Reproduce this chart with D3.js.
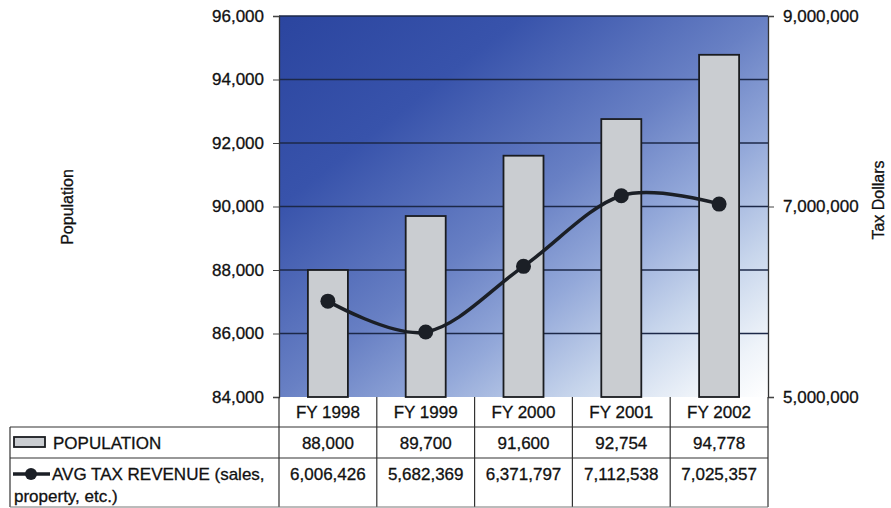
<!DOCTYPE html>
<html><head><meta charset="utf-8">
<script src="https://cdn.jsdelivr.net/npm/d3@7"></script>
<style>
body{margin:0;background:#fff;}
text{font-family:"Liberation Sans",Arial,sans-serif;fill:#111;stroke:#111;stroke-width:0.3px;}
</style></head><body>
<svg id="c" width="891" height="508"></svg>
<script>
const categories = ["FY 1998","FY 1999","FY 2000","FY 2001","FY 2002"];
const population = [88000, 89700, 91600, 92754, 94778];
const taxRevenue = [6006426, 5682369, 6371797, 7112538, 7025357];
const popLabels = ["88,000","89,700","91,600","92,754","94,778"];
const taxLabels = ["6,006,426","5,682,369","6,371,797","7,112,538","7,025,357"];
const leftTicks = [84000,86000,88000,90000,92000,94000,96000];
const rightTicks = [5000000,7000000,9000000];

const svg = d3.select("#c");
const L = 279, R = 768, T = 16, B = 397;
const FS = 17;

const x = d3.scaleBand().domain(categories).range([L, R]).paddingInner(0).paddingOuter(0);
const yL = d3.scaleLinear().domain([84000, 96000]).range([B, T]);
const yR = d3.scaleLinear().domain([5000000, 9000000]).range([B, T]);

// background gradient
const defs = svg.append("defs");
const g = defs.append("linearGradient").attr("id","bg").attr("x1","0").attr("y1","0").attr("x2","1").attr("y2","1");
[[0,"#2b459f"],[0.25,"#3853ab"],[0.5,"#6880c4"],[0.65,"#93a8d9"],[0.8,"#c8d6ec"],[0.92,"#eef3f9"],[1,"#ffffff"]].forEach(s=>
  g.append("stop").attr("offset",s[0]).attr("stop-color",s[1]));
svg.append("rect").attr("x",L).attr("y",T).attr("width",R-L).attr("height",B-T).attr("fill","url(#bg)");

// gridlines
svg.append("g").selectAll("line").data(leftTicks.slice(1)).join("line")
  .attr("x1",L).attr("x2",R).attr("y1",d=>yL(d)).attr("y2",d=>yL(d))
  .attr("stroke","#1c2848").attr("stroke-width",1.3);

// bars
const bw = 40;
svg.append("g").selectAll("rect").data(population).join("rect")
  .attr("x",(d,i)=>x(categories[i])+x.bandwidth()/2-bw/2)
  .attr("y",d=>yL(d)).attr("width",bw).attr("height",d=>B-yL(d))
  .attr("fill","#cacdd1").attr("stroke","#1a1c20").attr("stroke-width",1.8);

// line
const pts = taxRevenue.map((d,i)=>[x(categories[i])+x.bandwidth()/2, yR(d)]);
svg.append("path").attr("d", d3.line().curve(d3.curveCardinal.tension(0))(pts))
  .attr("fill","none").attr("stroke","#1b1f26").attr("stroke-width",3.5);
svg.append("g").selectAll("circle").data(pts).join("circle")
  .attr("cx",d=>d[0]).attr("cy",d=>d[1]).attr("r",7.5).attr("fill","#1b1f26");

// axes
const axL = svg.append("g").attr("transform",`translate(${L},0)`).call(d3.axisLeft(yL).tickValues(leftTicks).tickFormat(d3.format(",")).tickSize(6).tickPadding(9));
const axR = svg.append("g").attr("transform",`translate(${R},0)`).call(d3.axisRight(yR).tickValues(rightTicks).tickFormat(d3.format(",")).tickSize(6).tickPadding(9));
[axL,axR].forEach(a=>{
  a.select(".domain").attr("stroke","#333").attr("stroke-width",1.3);
  a.selectAll(".tick line").attr("stroke","#444");
  a.selectAll("text").attr("font-size",FS).attr("fill","#111").style("font-family","'Liberation Sans',Arial,sans-serif");
});

// axis titles
svg.append("text").attr("transform","translate(73,207) rotate(-90)").attr("text-anchor","middle").attr("font-size",16).text("Population");
svg.append("text").attr("transform","translate(884,200) rotate(-90)").attr("text-anchor","middle").attr("font-size",16).text("Tax Dollars");

// data table
const tb = svg.append("g");
const rowY = [B, 427, 458, 507];
const cols = categories.map(c=>x(c)).concat([R]);
const st = "#333";
cols.forEach(cx=> tb.append("line").attr("x1",cx).attr("x2",cx).attr("y1",B).attr("y2",rowY[3]).attr("stroke",st).attr("stroke-width",1.2));
tb.append("line").attr("x1",10).attr("x2",10).attr("y1",rowY[1]).attr("y2",rowY[3]).attr("stroke",st).attr("stroke-width",1.2);
tb.append("line").attr("x1",10).attr("x2",R).attr("y1",rowY[1]).attr("y2",rowY[1]).attr("stroke",st).attr("stroke-width",1.2);
tb.append("line").attr("x1",10).attr("x2",R).attr("y1",rowY[2]).attr("y2",rowY[2]).attr("stroke",st).attr("stroke-width",1.2);
tb.append("line").attr("x1",10).attr("x2",R).attr("y1",rowY[3]).attr("y2",rowY[3]).attr("stroke","#777").attr("stroke-width",1);

const cx = c => x(c)+x.bandwidth()/2;
tb.selectAll(".hd").data(categories).join("text").attr("x",d=>cx(d)).attr("y",418).attr("text-anchor","middle").attr("font-size",FS).text(d=>d);
tb.selectAll(".pv").data(popLabels).join("text").attr("x",(d,i)=>cx(categories[i])).attr("y",449).attr("text-anchor","middle").attr("font-size",FS).text(d=>d);
tb.selectAll(".tv").data(taxLabels).join("text").attr("x",(d,i)=>cx(categories[i])).attr("y",480).attr("text-anchor","middle").attr("font-size",FS).text(d=>d);

// legend keys
tb.append("rect").attr("x",14).attr("y",437).attr("width",31).attr("height",10).attr("fill","#cacdd1").attr("stroke","#1a1c20").attr("stroke-width",1.8);
tb.append("text").attr("x",53).attr("y",449).attr("font-size",FS).text("POPULATION");
tb.append("line").attr("x1",13).attr("x2",50).attr("y1",474).attr("y2",474).attr("stroke","#1b1f26").attr("stroke-width",3.5);
tb.append("circle").attr("cx",31).attr("cy",474).attr("r",6).attr("fill","#1b1f26");
tb.append("text").attr("x",52).attr("y",480).attr("font-size",FS).text("AVG TAX REVENUE (sales,");
tb.append("text").attr("x",14).attr("y",502).attr("font-size",FS).text("property, etc.)");
</script></body></html>
